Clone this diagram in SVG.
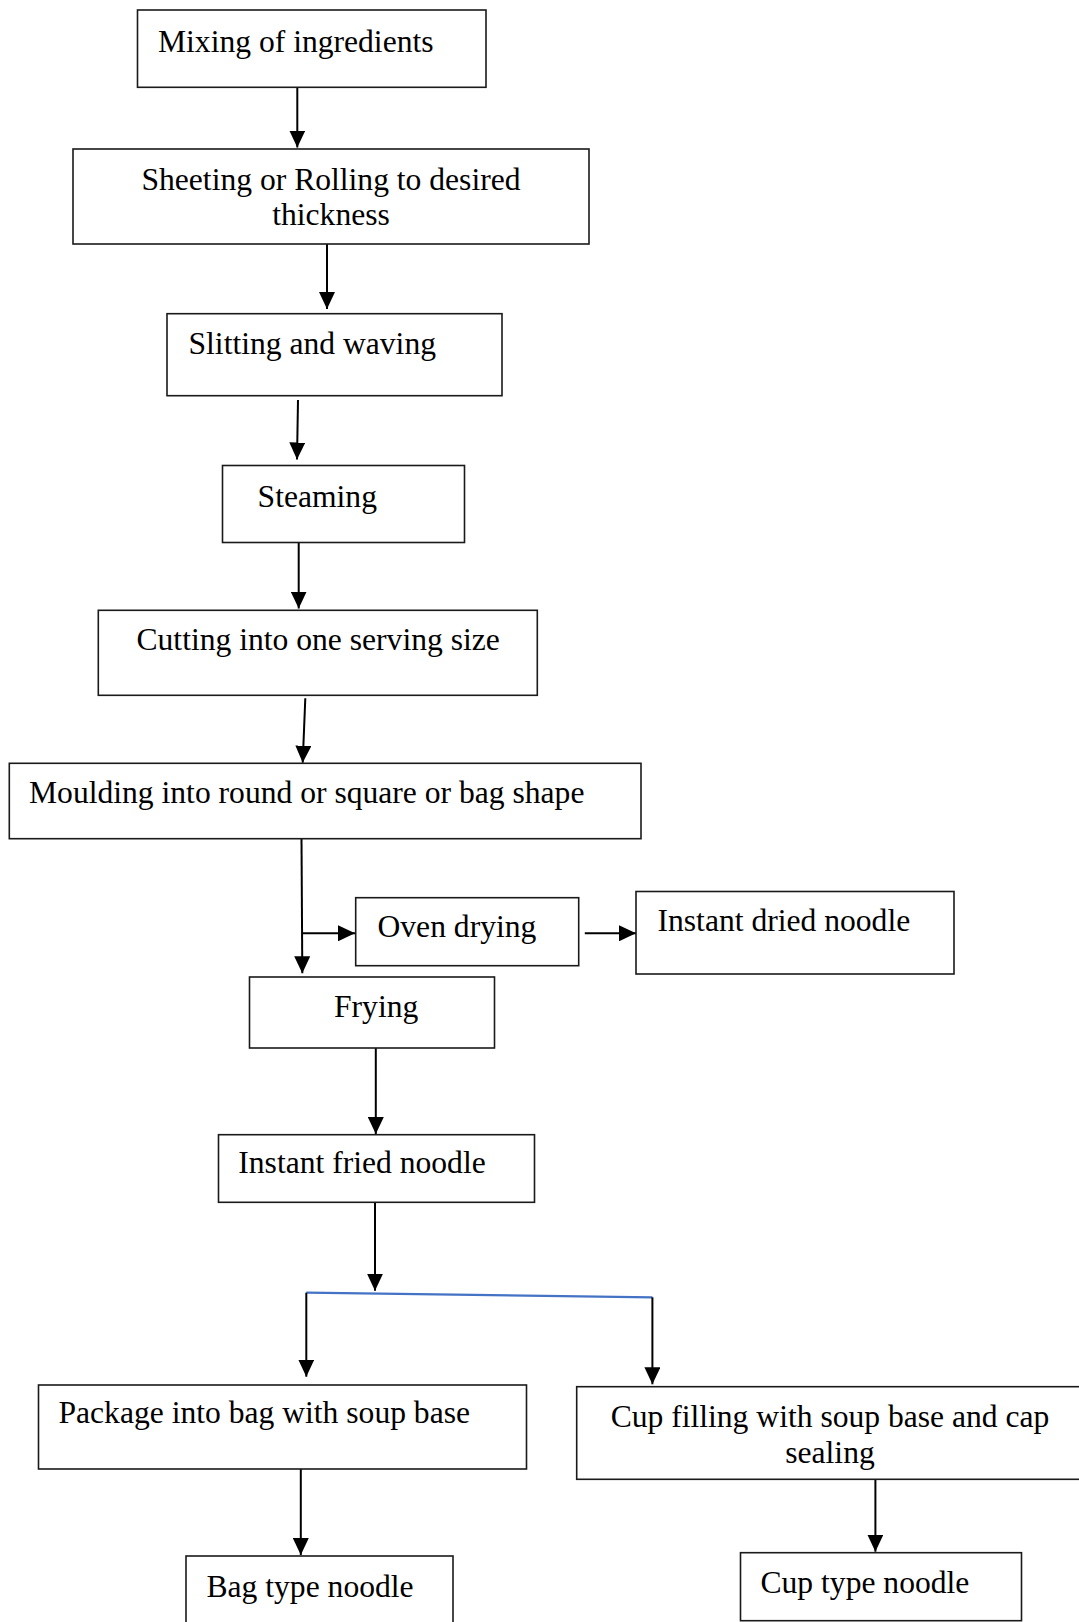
<svg xmlns="http://www.w3.org/2000/svg" width="1079" height="1622" viewBox="0 0 1079 1622">
<style>
.box{fill:#fff;stroke:#1a1a1a;stroke-width:1.6}
.t{font-family:"Liberation Serif","Times New Roman",serif;font-size:31.6px;fill:#000}
.c{text-anchor:middle}
.ln{stroke:#000;stroke-width:2;fill:none}
.blue{stroke:#4472C4;stroke-width:2.2;fill:none}
</style>
<defs>
<marker id="ah" viewBox="0 0 17 16" refX="17" refY="8" markerWidth="17" markerHeight="16" markerUnits="userSpaceOnUse" orient="auto">
<path d="M0,0 L17,8 L0,16 z" fill="#000"/>
</marker>
</defs>
<rect width="1079" height="1622" fill="#fff"/>
<g id="connectors">
<line class="ln" x1="297.3" y1="87.3" x2="297.3" y2="147.5" marker-end="url(#ah)"/>
<line class="ln" x1="327" y1="244" x2="327" y2="309" marker-end="url(#ah)"/>
<line class="ln" x1="298" y1="400" x2="297" y2="459.5" marker-end="url(#ah)"/>
<line class="ln" x1="298.7" y1="540" x2="298.7" y2="608.5" marker-end="url(#ah)"/>
<line class="ln" x1="305.3" y1="698.3" x2="302.7" y2="762.7" marker-end="url(#ah)"/>
<line class="ln" x1="301.5" y1="838.7" x2="302.3" y2="973.3" marker-end="url(#ah)"/>
<line class="ln" x1="302" y1="933.3" x2="355" y2="933.3" marker-end="url(#ah)"/>
<line class="ln" x1="584.8" y1="933.3" x2="636" y2="933.3" marker-end="url(#ah)"/>
<line class="ln" x1="375.8" y1="1048" x2="375.8" y2="1134" marker-end="url(#ah)"/>
<line class="ln" x1="375" y1="1202.3" x2="375" y2="1290.7" marker-end="url(#ah)"/>
<line class="blue" x1="306.3" y1="1292.7" x2="652.4" y2="1297.3"/>
<line class="ln" x1="306.3" y1="1292.7" x2="306.3" y2="1376.7" marker-end="url(#ah)"/>
<line class="ln" x1="652.4" y1="1297.3" x2="652.4" y2="1384.3" marker-end="url(#ah)"/>
<line class="ln" x1="300.8" y1="1469" x2="300.8" y2="1555" marker-end="url(#ah)"/>
<line class="ln" x1="875.4" y1="1479.3" x2="875.4" y2="1551.7" marker-end="url(#ah)"/>
</g>
<g id="mixing"><rect class="box" x="137.5" y="10" width="348.5" height="77.3"/><text class="t" x="158" y="51.5">Mixing of ingredients</text></g>
<g id="sheeting"><rect class="box" x="73" y="149" width="516" height="95"/><text class="t c" x="331" y="189.5">Sheeting or Rolling to desired</text><text class="t c" x="331" y="225">thickness</text></g>
<g id="slitting"><rect class="box" x="167" y="313.7" width="335" height="82"/><text class="t" x="188.5" y="353.5">Slitting and waving</text></g>
<g id="steaming"><rect class="box" x="222.5" y="465.5" width="242" height="77"/><text class="t" x="257.6" y="506.5">Steaming</text></g>
<g id="cutting"><rect class="box" x="98.3" y="610.3" width="439" height="85"/><text class="t" x="136.5" y="650">Cutting into one serving size</text></g>
<g id="moulding"><rect class="box" x="9.3" y="763.3" width="631.7" height="75.4"/><text class="t" x="29" y="803">Moulding into round or square or bag shape</text></g>
<g id="oven"><rect class="box" x="355.7" y="897.7" width="223" height="68"/><text class="t" x="377.5" y="936.7">Oven drying</text></g>
<g id="instant-dried"><rect class="box" x="636" y="891.5" width="318" height="82.5"/><text class="t" x="657.5" y="930.7">Instant dried noodle</text></g>
<g id="frying"><rect class="box" x="249.5" y="977" width="245" height="71"/><text class="t" x="334" y="1016.7">Frying</text></g>
<g id="instant-fried"><rect class="box" x="218.5" y="1134.7" width="316" height="67.6"/><text class="t" x="238.3" y="1173.3">Instant fried noodle</text></g>
<g id="package"><rect class="box" x="38.5" y="1385" width="488" height="84"/><text class="t" x="58.5" y="1423.3">Package into bag with soup base</text></g>
<g id="cup-filling"><rect class="box" x="576.7" y="1386.7" width="510" height="92.6"/><text class="t c" x="830" y="1426.7">Cup filling with soup base and cap</text><text class="t c" x="830" y="1463.3">sealing</text></g>
<g id="bag-type"><rect class="box" x="186" y="1556" width="267" height="80"/><text class="t" x="206.5" y="1596.7">Bag type noodle</text></g>
<g id="cup-type"><rect class="box" x="740.5" y="1552.7" width="281" height="68"/><text class="t" x="760.5" y="1593.3">Cup type noodle</text></g>
</svg>
